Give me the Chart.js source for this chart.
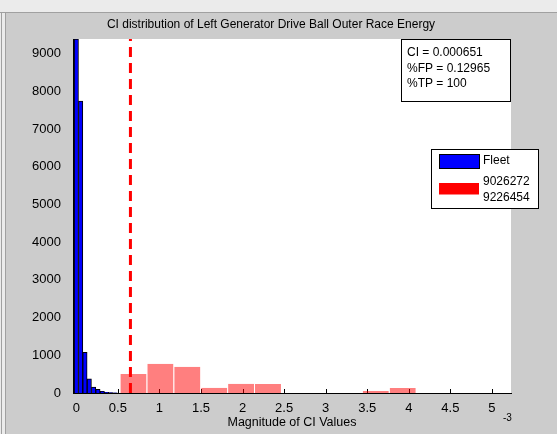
<!DOCTYPE html>
<html>
<head>
<meta charset="utf-8">
<script src="https://cdn.jsdelivr.net/npm/chart.js@4"></script>
<style>
  html, body { margin: 0; padding: 0; background: #cccccc; }
</style>
</head>
<body>
<canvas id="ciHist" width="557" height="434"></canvas>
<script>
// 📊 CI 분포 히스토그램 (x 단위: 1e-3)
const fleetCenters = [0, 0.052, 0.104, 0.156, 0.208, 0.26, 0.312, 0.364, 0.416, 0.468];
const fleetCounts = [9390, 7745, 1080, 375, 160, 98, 45, 20, 8, 3];
const unitCenters = [0.692, 1.016, 1.34, 1.664, 1.988, 2.312, 2.636, 2.96, 3.284, 3.608, 3.932];
const unitCounts = [504, 777, 698, 141, 247, 239, 0, 0, 0, 53, 133];
const xTicks = [0, 0.5, 1, 1.5, 2, 2.5, 3, 3.5, 4, 4.5, 5];
const yTicks = [0, 1000, 2000, 3000, 4000, 5000, 6000, 7000, 8000, 9000];
const ciThreshold = 0.651;
const statLines = ['CI = 0.000651', '%FP = 0.12965', '%TP = 100'];
const chartTitle = 'CI distribution of Left Generator Drive Ball Outer Race Energy';
const xExponent = '-3';

const FONT = 'Liberation Sans, Arial, sans-serif';
const yMax = 9390;

// 매트랩 스타일 장식
const matlabLook = {
  id: 'matlabLook',
  beforeDraw(chart) {
    const { ctx, chartArea: a, width, height } = chart;
    ctx.save();
    ctx.fillStyle = '#cccccc';
    ctx.fillRect(0, 0, width, height);
    ctx.fillStyle = '#ebebeb';
    ctx.fillRect(0, 0, width, 12);
    ctx.fillRect(0, 0, 7, height);
    ctx.fillStyle = '#a0a0a0';
    ctx.fillRect(0, 12, width, 1);
    ctx.fillRect(1, 12, 1, height);
    ctx.fillRect(5, 12, 1, height);
    ctx.fillStyle = '#cccccc';
    ctx.fillRect(6, 13, width, height);
    ctx.fillStyle = '#ffffff';
    ctx.fillRect(a.left, a.top, a.right - a.left, a.bottom - a.top);
    ctx.restore();
  },
  beforeDatasetsDraw(chart) {
    const { ctx, chartArea: a, scales } = chart;
    ctx.save();
    ctx.strokeStyle = '#000';
    ctx.lineWidth = 1;
    ctx.beginPath();
    xTicks.forEach(v => {
      const px = Math.round(scales.x.getPixelForValue(v)) + 0.5;
      ctx.moveTo(px, a.bottom);
      ctx.lineTo(px, a.bottom - 4);
    });
    yTicks.forEach(v => {
      const py = Math.round(scales.y.getPixelForValue(v)) + 0.5;
      ctx.moveTo(a.left, py);
      ctx.lineTo(a.left + 4, py);
    });
    ctx.stroke();
    ctx.restore();
  },
  afterDraw(chart) {
    const { ctx } = chart;
    ctx.save();
    ctx.fillStyle = '#000';
    ctx.textBaseline = 'middle';
    ctx.font = '12px ' + FONT;
    ctx.textAlign = 'center';
    ctx.fillText(chartTitle, 271, 25);

    ctx.font = '10px ' + FONT;
    ctx.textAlign = 'left';
    ctx.fillText(xExponent, 503, 418);

    // 통계 박스
    ctx.fillStyle = '#fff';
    ctx.fillRect(401.5, 39.5, 109, 62);
    ctx.strokeStyle = '#000';
    ctx.lineWidth = 1;
    ctx.strokeRect(401.5, 39.5, 109, 62);
    ctx.fillStyle = '#000';
    ctx.font = '12px ' + FONT;
    statLines.forEach((t, i) => ctx.fillText(t, 407, 53 + i * 15.3));

    // 범례
    ctx.fillStyle = '#fff';
    ctx.fillRect(431.5, 149.5, 107, 59);
    ctx.strokeRect(431.5, 149.5, 107, 59);
    const ds = chart.data.datasets.filter(d => d.type !== 'line');
    const swatch = ['#0000ff', '#ff0000'];
    const rows = [161, 189.5];
    ds.forEach((d, i) => {
      ctx.fillStyle = swatch[i];
      if (i === 0) {
        ctx.fillRect(439.5, 154.5, 40, 14);
        ctx.strokeRect(439.5, 154.5, 40, 14);
      } else {
        ctx.fillRect(439, 183, 40, 11.5);
      }
      ctx.fillStyle = '#000';
      const parts = d.label.split('\n');
      parts.forEach((p, j) => ctx.fillText(p, 483, rows[i] + (j - (parts.length - 1) / 2) * 16));
    });
    ctx.restore();
  }
};

const fleetBin = fleetCenters[1] - fleetCenters[0];
const unitBin = unitCenters[1] - unitCenters[0];

new Chart(document.getElementById('ciHist'), {
  type: 'bar',
  data: {
    datasets: [
      {
        type: 'line',
        label: 'CI',
        data: [{ x: ciThreshold, y: 0 }, { x: ciThreshold, y: yMax }],
        borderColor: '#ff0000',
        borderWidth: 3,
        borderDash: [10, 6],
        pointRadius: 0,
        order: 0
      },
      {
        label: 'Fleet',
        data: fleetCenters.map((x, i) => ({ x, y: fleetCounts[i] })),
        backgroundColor: '#0000ff',
        borderColor: '#000000',
        borderWidth: { top: 1, left: 1, right: 1, bottom: 0 },
        barPercentage: 1,
        categoryPercentage: 1,
        grouped: false,
        order: 1
      },
      {
        label: '9026272\n9226454',
        data: unitCenters.map((x, i) => ({ x, y: unitCounts[i] })),
        backgroundColor: 'rgba(255,0,0,0.5)',
        borderColor: 'rgba(255,255,255,0.8)',
        borderWidth: { right: 1 },
        barPercentage: 1,
        categoryPercentage: unitBin / fleetBin,
        grouped: false,
        order: 2
      }
    ]
  },
  options: {
    responsive: false,
    animation: false,
    devicePixelRatio: 1,
    layout: { padding: { top: 39, right: 46, left: 0, bottom: 0 } },
    plugins: { legend: { display: false }, tooltip: { enabled: false } },
    scales: {
      x: {
        type: 'linear',
        min: -0.04,
        max: 5.23,
        offset: false,
        grid: { display: false },
        border: { display: true, color: '#000', width: 1 },
        afterBuildTicks: s => { s.ticks = xTicks.map(v => ({ value: v })); },
        afterFit: s => { s.height = 41; },
        ticks: {
          color: '#000', padding: 0, maxRotation: 0, autoSkip: false,
          font: { family: FONT, size: 13 },
          callback: v => String(v)
        },
        title: {
          display: true, text: 'Magnitude of CI Values', color: '#000',
          font: { family: FONT, size: 12.5 }, padding: { top: 0, bottom: 4 }
        }
      },
      y: {
        min: 0,
        max: yMax,
        grid: { display: false },
        border: { display: true, color: '#000', width: 1 },
        afterBuildTicks: s => { s.ticks = yTicks.map(v => ({ value: v })); },
        afterFit: s => { s.width = 73; },
        ticks: {
          color: '#000', padding: 4,
          font: { family: FONT, size: 13 },
          callback: v => String(v)
        }
      }
    }
  },
  plugins: [matlabLook]
});
</script>
</body>
</html>
